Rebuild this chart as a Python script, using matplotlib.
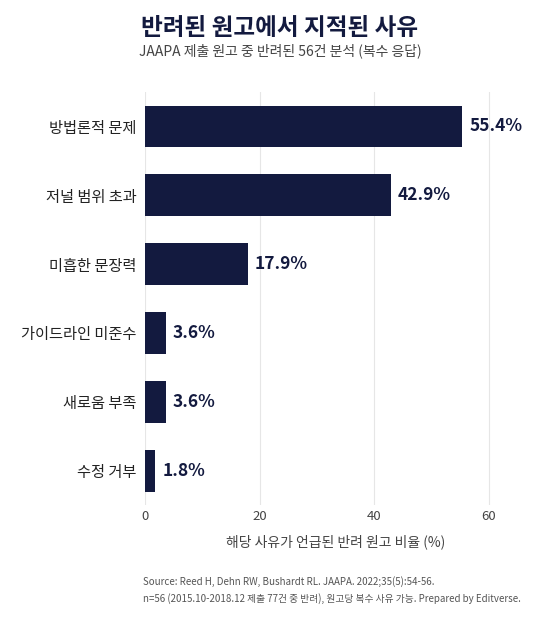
import matplotlib
matplotlib.use("Agg")
import matplotlib.pyplot as plt

plt.rcParams['font.family'] = ['Noto Sans CJK KR', 'DejaVu Sans']

categories = ["방법론적 문제", "저널 범위 초과", "미흡한 문장력", "가이드라인 미준수", "새로움 부족", "수정 거부"]
values = [55.4, 42.9, 17.9, 3.6, 3.6, 1.8]
xticks = [0, 20, 40, 60]

navy = "#131a3f"
fig = plt.figure(figsize=(5.6, 6.2), dpi=100)
ax = fig.add_axes([0.259, 0.185, 0.68, 0.667])
y = list(range(len(categories)))
ax.barh(y, values, height=0.6, color=navy, zorder=2)
for yi, v in zip(y, values):
    ax.text(v + 1.2, yi, f"{v:.1f}%", va='center', ha='left', fontsize=12.5,
            fontweight='bold', color=navy)
ax.set_yticks(y)
ax.set_yticklabels(categories, fontsize=11, color="#222222")
ax.invert_yaxis()
ax.set_ylim(5.5, -0.5)
ax.set_xlim(0, 66.5)
ax.set_xticks(xticks)
ax.tick_params(axis='x', labelsize=9.5, colors="#444444", length=0)
ax.tick_params(axis='y', length=0, pad=6)
ax.grid(axis='x', color="#e6e6e6", linewidth=0.8, zorder=0)
for s in ax.spines.values():
    s.set_visible(False)
ax.set_xlabel("해당 사유가 언급된 반려 원고 비율 (%)", fontsize=10, color="#444444", labelpad=8)

fig.text(0.5, 0.955, "반려된 원고에서 지적된 사유", ha='center', va='center',
         fontsize=17, fontweight='bold', color=navy)
fig.text(0.5, 0.918, "JAAPA 제출 원고 중 반려된 56건 분석 (복수 응답)", ha='center', va='center',
         fontsize=10, color="#444444")
fig.text(0.255, 0.062, "Source: Reed H, Dehn RW, Bushardt RL. JAAPA. 2022;35(5):54-56.",
         ha='left', va='center', fontsize=7, color="#555555")
fig.text(0.255, 0.035, "n=56 (2015.10-2018.12 제출 77건 중 반려), 원고당 복수 사유 가능. Prepared by Editverse.",
         ha='left', va='center', fontsize=7, color="#555555")
fig.savefig("out.png", dpi=100, facecolor="white")
